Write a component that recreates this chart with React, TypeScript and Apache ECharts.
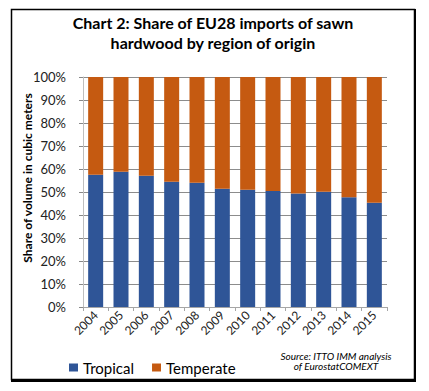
import React, { useEffect, useRef } from "react";
import * as echarts from "echarts";

const years = ["2004", "2005", "2006", "2007", "2008", "2009", "2010", "2011", "2012", "2013", "2014", "2015"];
const tropical = [57.5, 58.8, 57.1, 54.5, 54.0, 51.4, 51.0, 50.4, 49.3, 50.1, 47.7, 45.3];
const temperate = tropical.map((v) => Math.round((100 - v) * 10) / 10);
const titleLines = ["Chart 2: Share of EU28 imports of sawn", "hardwood by region of origin"];
const yAxisTitle = "Share of volume in cubic meters";
const sourceLines = ["Source: ITTO IMM analysis", "of EurostatCOMEXT"];

const FONT = "Lato, 'Open Sans', sans-serif";

export default function App() {
  const ref = useRef<HTMLDivElement>(null);
  useEffect(() => {
    document.body.style.margin = "0";
    if (!ref.current) return;
    const chart = echarts.init(ref.current, null, { renderer: "svg" });
    chart.setOption({
      animation: false,
      backgroundColor: "#ffffff",
      textStyle: { fontFamily: FONT },
      grid: { left: 83, right: 42, top: 77, bottom: 84, containLabel: false },
      legend: {
        left: 64,
        top: 355,
        icon: "rect",
        itemWidth: 9,
        itemHeight: 8,
        itemGap: 18,
        textStyle: { fontSize: 15, color: "#000", fontFamily: FONT },
        data: ["Tropical", "Temperate"],
      },
      xAxis: {
        type: "category",
        data: years,
        axisLine: { show: true, lineStyle: { color: "#a6a6a6" } },
        axisTick: { show: true, length: 4, lineStyle: { color: "#a6a6a6" } },
        axisLabel: { rotate: 45, fontSize: 12, color: "#222", margin: 6, fontFamily: FONT },
      },
      yAxis: {
        type: "value",
        min: 0,
        max: 100,
        interval: 10,
        axisLine: { show: true, lineStyle: { color: "#bfbfbf" } },
        axisTick: { show: true, length: 4, lineStyle: { color: "#888" } },
        axisLabel: { formatter: "{value}%", fontSize: 13, color: "#222", margin: 17, fontFamily: FONT },
        splitLine: { show: true, lineStyle: { color: "#8c8c8c", width: 1 } },
      },
      series: [
        {
          name: "Tropical",
          type: "bar",
          stack: "total",
          barWidth: 15,
          itemStyle: { color: "#2F5597" },
          data: tropical,
        },
        {
          name: "Temperate",
          type: "bar",
          stack: "total",
          barWidth: 15,
          itemStyle: { color: "#C55A11" },
          data: temperate,
        },
      ],
      graphic: [
        {
          type: "rect",
          shape: { x: 11.5, y: 9.5, width: 403, height: 370 },
          style: { fill: "none", stroke: "#000", lineWidth: 1.5 },
          silent: true,
        },
        {
          type: "line",
          shape: { x1: 11, y1: 380.5, x2: 416, y2: 380.5 },
          style: { stroke: "#000", lineWidth: 3 },
          silent: true,
        },
        {
          type: "line",
          shape: { x1: 415, y1: 9, x2: 415, y2: 382 },
          style: { stroke: "#000", lineWidth: 2 },
          silent: true,
        },
        {
          type: "text",
          x: 213,
          y: 32,
          style: {
            text: titleLines.join("\n"),
            font: `bold 16px ${FONT}`,
            fill: "#000",
            align: "center",
            verticalAlign: "middle",
            lineHeight: 20,
          },
        },
        {
          type: "text",
          x: 27,
          y: 178,
          rotation: Math.PI / 2,
          style: {
            text: yAxisTitle,
            font: `bold 12px ${FONT}`,
            fill: "#000",
            align: "center",
            verticalAlign: "middle",
          },
        },
        {
          type: "text",
          x: 336,
          y: 361,
          style: {
            text: sourceLines.join("\n"),
            font: `italic 10px ${FONT}`,
            fill: "#000",
            align: "center",
            verticalAlign: "middle",
            lineHeight: 10.5,
          },
        },
      ],
    });
    return () => chart.dispose();
  }, []);
  return <div ref={ref} style={{ width: 429, height: 391 }} />;
}
